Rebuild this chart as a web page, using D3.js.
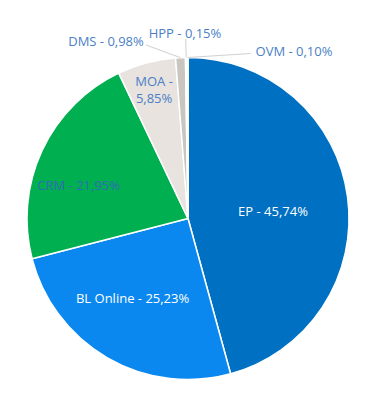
<!DOCTYPE html>
<html>
<head>
<meta charset="utf-8">
<script src="https://cdn.jsdelivr.net/npm/d3@7/dist/d3.min.js"></script>
<style>
html,body{margin:0;padding:0;background:#fff;}
svg{display:block;}
</style>
</head>
<body>
<svg id="chart" width="374" height="411"></svg>
<script>
// Data
const categories = ["EP", "BL Online", "CRM", "MOA", "DMS", "HPP", "OVM"];
const values = [45.74, 25.23, 21.95, 5.85, 0.98, 0.15, 0.10];
const valueLabels = ["45,74%", "25,23%", "21,95%", "5,85%", "0,98%", "0,15%", "0,10%"];
const colors = ["#0070C2", "#0A88EF", "#00B050", "#E8E3DE", "#C9C5C1", "#D6D3D0", "#D9D9D9"];
const labelColors = ["#FFFFFF", "#FFFFFF", "#2F6DB5", "#4A7FC6", "#4A7FC6", "#4A7FC6", "#4A7FC6"];

// Layout
const W = 374, H = 411;
const cx = 188, cy = 218.5, R = 161;
// label placement: [radius factor, angle(deg) from 12 o'clock] for inside labels;
// outside labels use text anchor positions relative to center
const labelPolar = [
  [0.53, 85], [0.6, 215], [0.71, 287], [0.83, 345.3]
];
const outsideLabelPos = [
  null, null, null, null,
  [-82, -177.5], [-3, -186], [106, -167.5]
];
const leaderEnds = [
  null, null, null, null,
  [-42, -173.5], [-2.3, -179.5], [62.7, -165]
];

const svg = d3.select("#chart");
const g = svg.append("g").attr("transform", `translate(${cx},${cy})`);

const pie = d3.pie().sort(null).value(d => d.v).startAngle(0).endAngle(2 * Math.PI);
const data = categories.map((c, i) => ({ c, v: values[i], i }));
const arcs = pie(data);
const arc = d3.arc().innerRadius(0).outerRadius(R);

g.selectAll("path.slice")
  .data(arcs)
  .join("path")
  .attr("class", "slice")
  .attr("d", arc)
  .attr("fill", d => colors[d.data.i])
  .attr("stroke", "#fff")
  .attr("stroke-width", 1.5)
  .attr("stroke-linejoin", "round");

const font = "'Open Sans', sans-serif";

// leader lines for small slices
arcs.forEach(d => {
  const i = d.data.i;
  if (!outsideLabelPos[i]) return;
  const mid = (d.startAngle + d.endAngle) / 2;
  const ex = Math.sin(mid) * R, ey = -Math.cos(mid) * R;
  const le = leaderEnds[i];
  g.append("line")
    .attr("x1", ex).attr("y1", ey)
    .attr("x2", le[0]).attr("y2", le[1])
    .attr("stroke", "#D0D0D0")
    .attr("stroke-width", 1);
});

// labels
arcs.forEach(d => {
  const i = d.data.i;
  let x, y;
  if (labelPolar[i]) {
    const [f, ang] = labelPolar[i];
    const a = ang * Math.PI / 180;
    x = Math.sin(a) * R * f;
    y = -Math.cos(a) * R * f;
  } else {
    [x, y] = outsideLabelPos[i];
  }
  const t = g.append("text")
    .attr("x", x).attr("y", y)
    .attr("text-anchor", "middle")
    .attr("dominant-baseline", "central")
    .attr("font-family", font)
    .attr("font-size", 13)
    .attr("fill", labelColors[i]);
  if (categories[i] === "MOA") {
    t.append("tspan").attr("x", x).attr("dy", "-0.67em").text(categories[i] + " -");
    t.append("tspan").attr("x", x).attr("dy", "1.34em").text(valueLabels[i]);
  } else {
    t.text(categories[i] + " - " + valueLabels[i]);
  }
});
</script>
</body>
</html>
